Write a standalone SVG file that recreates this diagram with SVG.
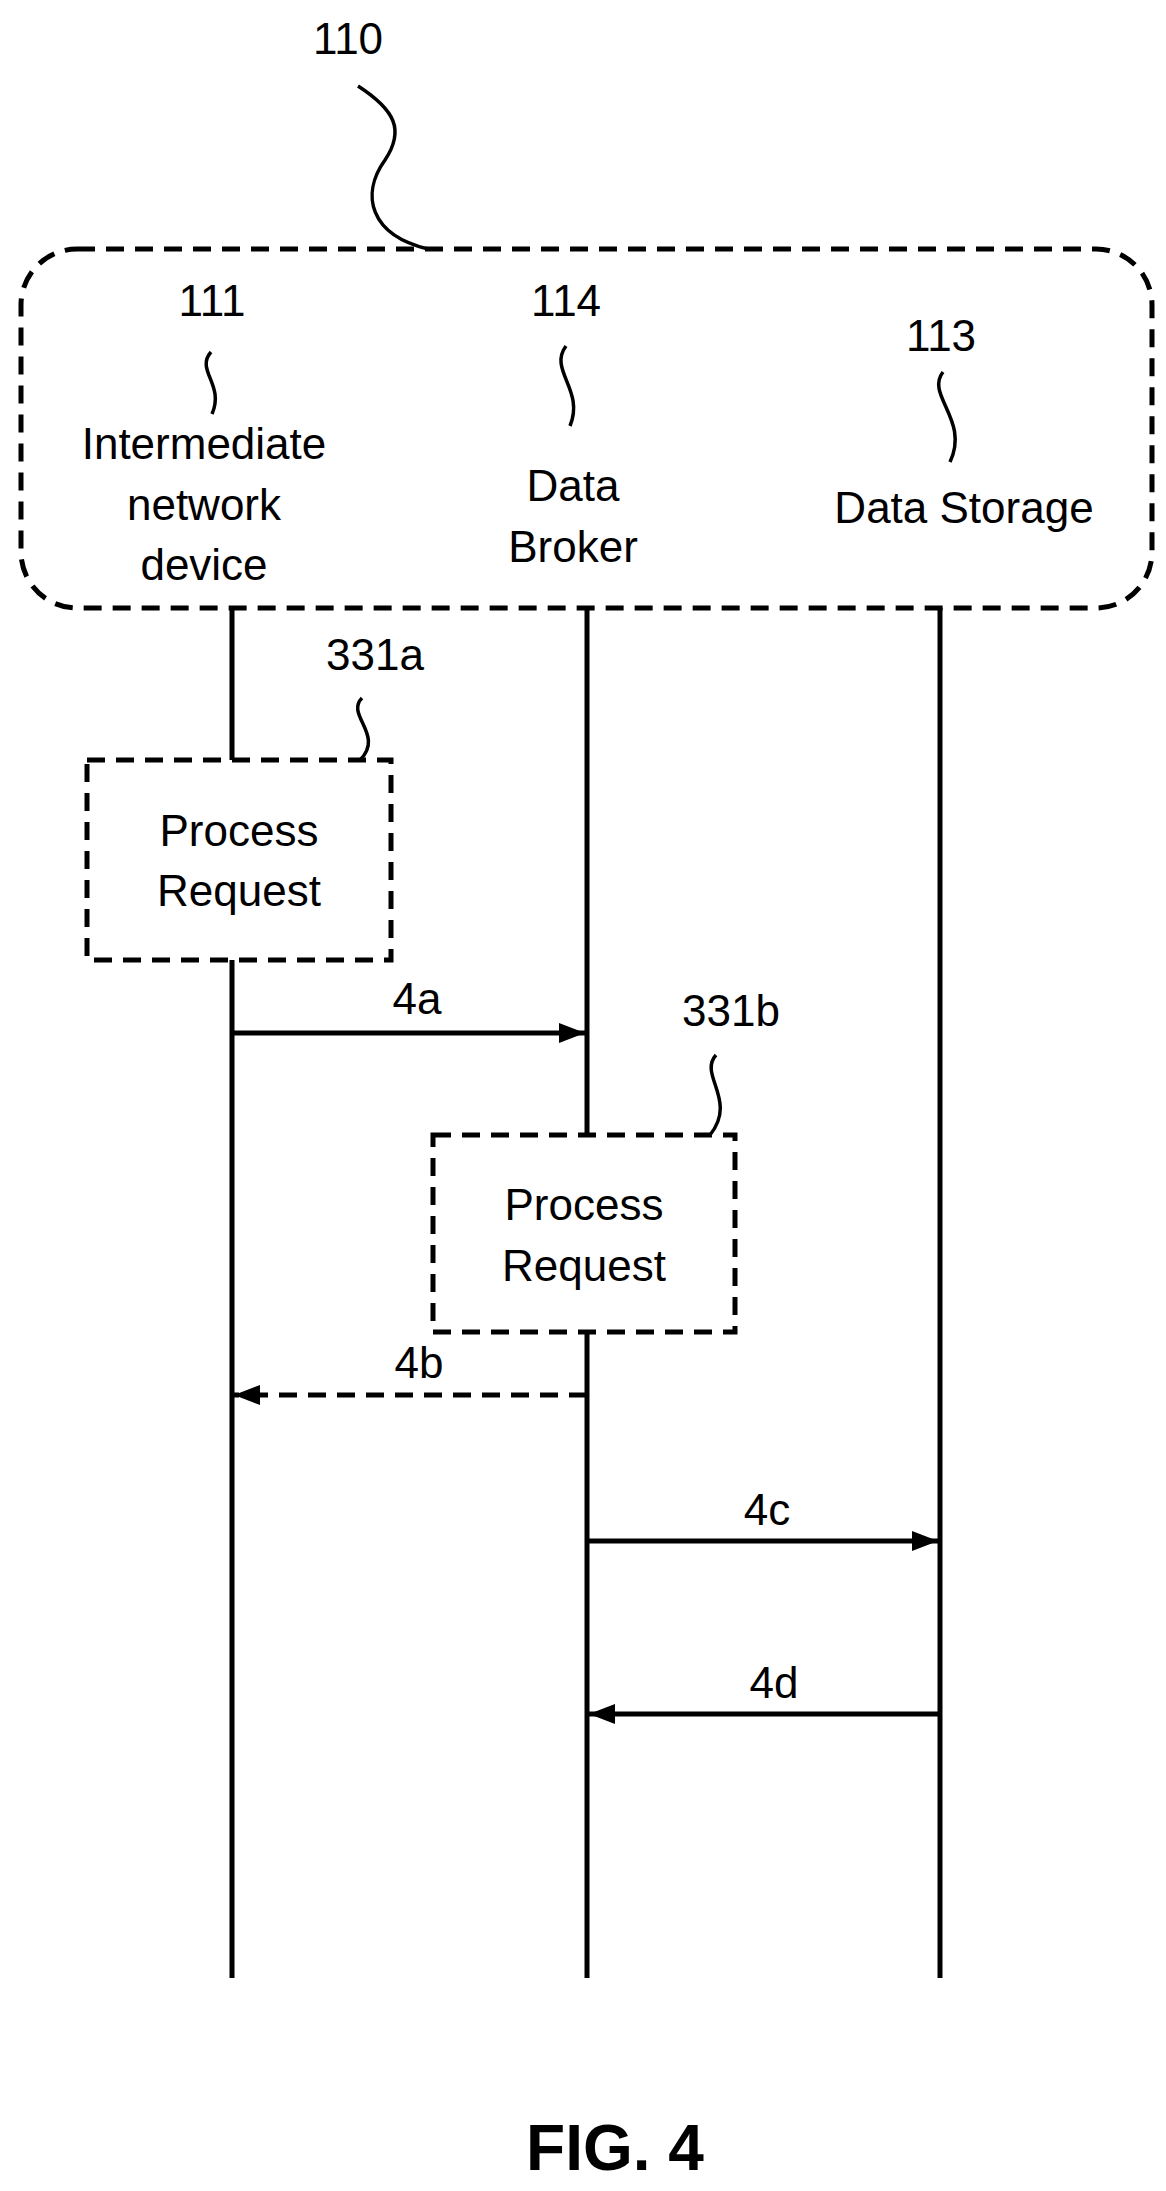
<svg xmlns="http://www.w3.org/2000/svg" width="1166" height="2191" viewBox="0 0 1166 2191">
<style>
text{font-family:"Liberation Sans",Arial,sans-serif;font-size:44px;fill:#000;text-anchor:middle}
.l{stroke:#000;stroke-width:5;fill:none}
.d{stroke:#000;stroke-width:5;fill:none;stroke-dasharray:18,11}
.b{stroke:#000;stroke-width:5;fill:#fff;stroke-dasharray:18,11}
.s{stroke:#000;stroke-width:3.5;fill:none}
</style>
<defs>
<marker id="ah" markerWidth="26" markerHeight="20" refX="26" refY="10" orient="auto" markerUnits="userSpaceOnUse"><path d="M0,0L26,10L0,20z"/></marker></defs>
<rect width="1166" height="2191" fill="#fff"/>
<g id="connectors">
<line class="l" x1="232" y1="608" x2="232" y2="1978"/>
<line class="l" x1="587" y1="608" x2="587" y2="1978"/>
<line class="l" x1="940" y1="608" x2="940" y2="1978"/>
<line class="l" x1="232" y1="1033" x2="585" y2="1033" marker-end="url(#ah)"/>
<line class="d" x1="587" y1="1395" x2="234" y2="1395" marker-end="url(#ah)"/>
<line class="l" x1="587" y1="1541" x2="938" y2="1541" marker-end="url(#ah)"/>
<line class="l" x1="940" y1="1714" x2="589" y2="1714" marker-end="url(#ah)"/>
<text x="417" y="1014">4a</text>
<text x="419" y="1378">4b</text>
<text x="767" y="1525">4c</text>
<text x="774" y="1698">4d</text>
</g>
<g id="n110">
<rect class="d" x="21" y="249" width="1131" height="359" rx="56"/>
<text x="348" y="54">110</text>
<path class="s" d="M358,86 C395,110 405,130 385,160 C360,195 370,235 428,249"/>
</g>
<g id="n111">
<text x="212" y="316">111</text>
<path class="s" d="M211,352 C195,370 225,385 212,414"/>
<text x="204" y="459">Intermediate</text>
<text x="204" y="520">network</text>
<text x="204" y="580">device</text>
</g>
<g id="n114">
<text x="566" y="316">114</text>
<path class="s" d="M566,346 C548,370 585,390 570,426"/>
<text x="573" y="501">Data</text>
<text x="573" y="562">Broker</text>
</g>
<g id="n113">
<text x="941" y="351">113</text>
<path class="s" d="M943,372 C925,395 970,420 950,462"/>
<text x="964" y="523">Data Storage</text>
</g>
<g id="n331a">
<rect class="b" x="87" y="760" width="304" height="200"/>
<text x="239" y="846">Process</text>
<text x="239" y="906">Request</text>
<text x="375" y="670">331a</text>
<path class="s" d="M362,698 C345,715 385,735 360,760"/>
</g>
<g id="n331b">
<rect class="b" x="433" y="1135" width="302" height="197"/>
<text x="584" y="1220">Process</text>
<text x="584" y="1281">Request</text>
<text x="731" y="1026">331b</text>
<path class="s" d="M716,1055 C698,1075 738,1100 710,1135"/>
</g>
<text x="615" y="2170" style="font-size:64px;font-weight:bold">FIG. 4</text>
</svg>
